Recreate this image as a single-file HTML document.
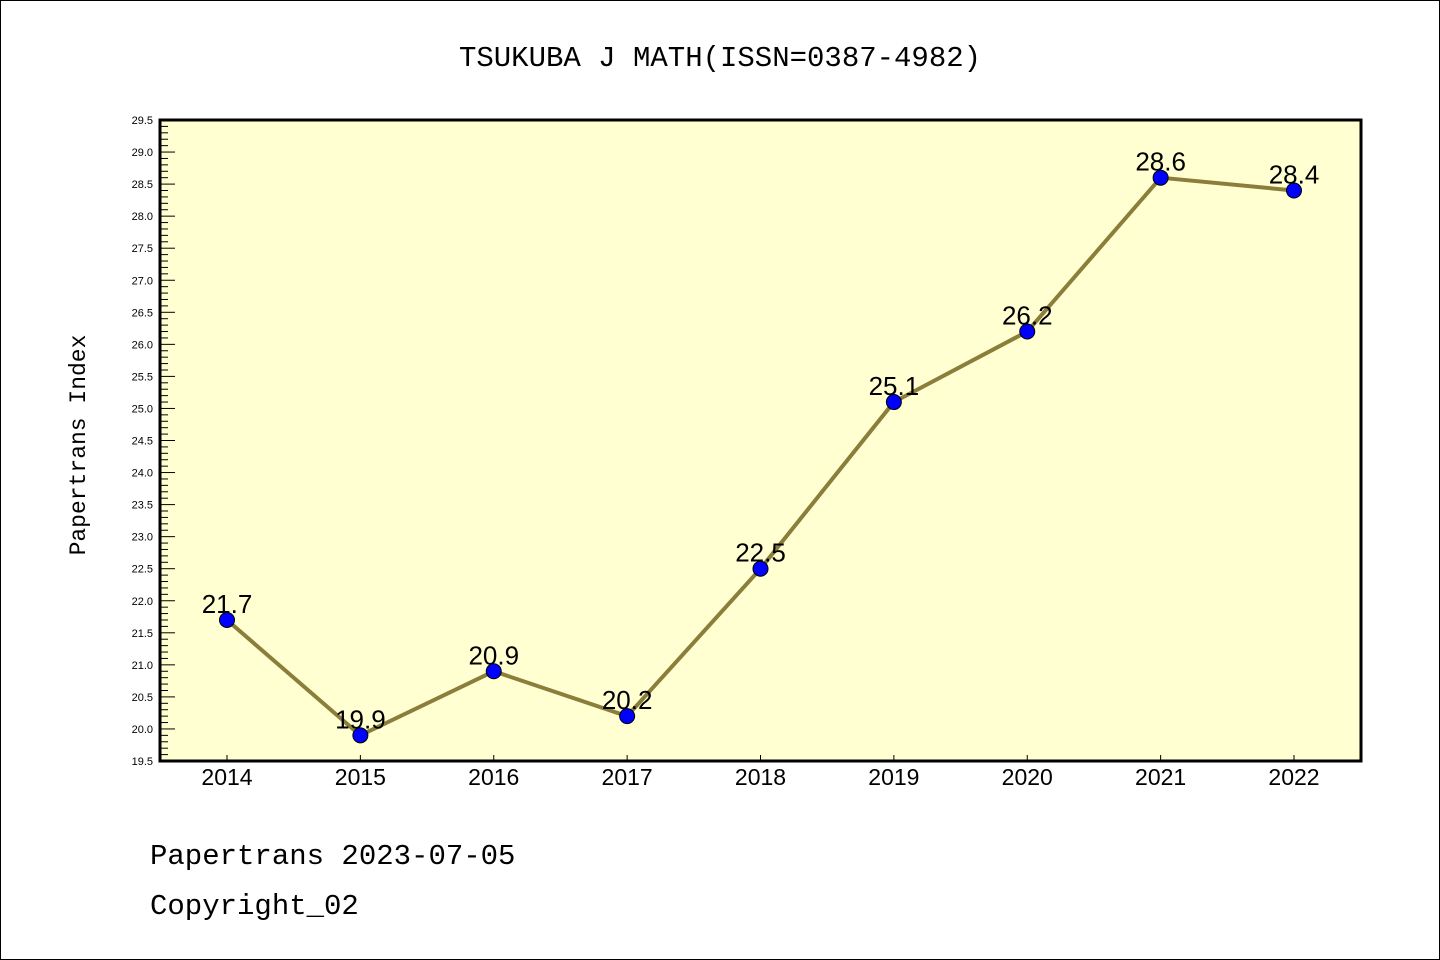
<!DOCTYPE html>
<html><head><meta charset="utf-8"><style>
body{margin:0;background:#fff}
svg{display:block}
text{font-family:"Liberation Sans","DejaVu Sans",sans-serif}
.mono{font-family:"Liberation Mono","DejaVu Sans Mono",monospace}
</style></head><body>
<svg id="c" width="1440" height="960" xmlns="http://www.w3.org/2000/svg">
<rect x="0.5" y="0.5" width="1439" height="959" fill="#fff" stroke="#000"/>
<text class="mono" x="720" y="66" font-size="29" text-anchor="middle">TSUKUBA J MATH(ISSN=0387-4982)</text>
<rect x="160" y="120" width="1201" height="641" fill="#ffffd2"/>
<g id="ticks"></g>
<g id="marks"></g>
<rect x="160" y="120" width="1201" height="641" fill="none" stroke="#000" stroke-width="3"/>
<text class="mono" x="85" y="445" font-size="23" text-anchor="middle" transform="rotate(-90 85 445)">Papertrans Index</text>
<text class="mono" x="150" y="864" font-size="29">Papertrans 2023-07-05</text>
<text class="mono" x="150" y="914" font-size="29">Copyright_02</text>
</svg>
<script>
const years=["2014","2015","2016","2017","2018","2019","2020","2021","2022"];
const values=[21.7,19.9,20.9,20.2,22.5,25.1,26.2,28.6,28.4];
const yTickLabels=["19.5","20.0","20.5","21.0","21.5","22.0","22.5","23.0","23.5","24.0","24.5","25.0","25.5","26.0","26.5","27.0","27.5","28.0","28.5","29.0","29.5"];
const yMin=19.5,yMax=29.5;
const L=160,R=1361,T=120,B=761;
const x0=227,xStep=133.375;
const xs=i=>x0+i*xStep;
const ys=v=>B-(v-yMin)/(yMax-yMin)*(B-T);
const NS="http://www.w3.org/2000/svg";
function mk(tag,attrs,parent){const e=document.createElementNS(NS,tag);for(const k in attrs)e.setAttribute(k,attrs[k]);parent.appendChild(e);return e;}
const tg=document.getElementById('ticks'),mg=document.getElementById('marks');
for(let k=0;k<=100;k++){const v=yMin+k*0.1;const y=ys(v);const major=k%5===0;
 const l=mk('line',{x1:L,x2:L+(major?15:8),y1:y,y2:y,stroke:'#000','stroke-width':1},tg);
 }
yTickLabels.forEach(s=>{const t=mk('text',{x:153,y:ys(parseFloat(s))+4,'font-size':11,'text-anchor':'end'},tg);t.textContent=s;
 });
years.forEach((yr,i)=>{const l=mk('line',{x1:xs(i),x2:xs(i),y1:B,y2:B-6,stroke:'#000','stroke-width':1},tg);
 
 const t=mk('text',{x:xs(i),y:785,'font-size':23,'text-anchor':'middle'},tg);t.textContent=yr;
 });
const pl=mk('polyline',{points:values.map((v,i)=>xs(i)+','+ys(v)).join(' '),fill:'none',stroke:'#8b7d3a','stroke-width':4},mg);

values.forEach((v,i)=>{const t=mk('text',{x:xs(i),y:ys(v)-7,'font-size':26,'text-anchor':'middle'},mg);t.textContent=v.toFixed(1);
 });
values.forEach((v,i)=>{const c=mk('circle',{cx:xs(i),cy:ys(v),r:7.5,fill:'#0000ff',stroke:'#000','stroke-width':1},mg);
 });
</script>
</body></html>
